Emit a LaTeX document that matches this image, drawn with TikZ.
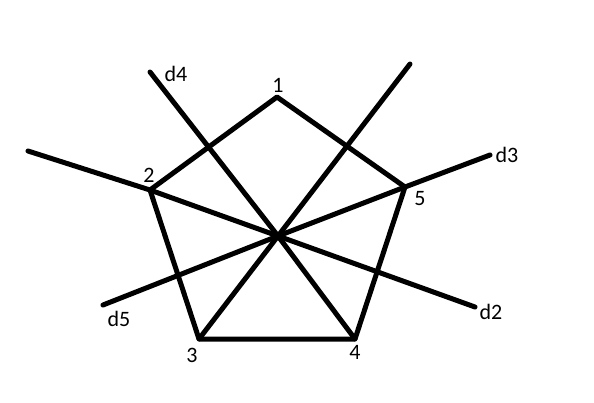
\documentclass[tikz,border=0pt]{standalone}
\usepackage{fontspec}
\setmainfont{Carlito}
\begin{document}
\begin{tikzpicture}[x=1pt,y=-1pt,
  edge/.style={line width=5pt,line cap=round,line join=round},
  lab/.style={font=\fontsize{22}{22}\selectfont,inner sep=0pt}]
\useasboundingbox[fill=white] (0,0) rectangle (594,402);
\coordinate (v1) at (277,97);
\coordinate (v2) at (150,190);
\coordinate (v3) at (199,339);
\coordinate (v4) at (355,339);
\coordinate (v5) at (405,187);
\coordinate (c) at (278,236);
\coordinate (e4) at (150,72);
\coordinate (etr) at (410,64);
\coordinate (el) at (28,151);
\coordinate (e2) at (475,307);
\coordinate (e3) at (490,155);
\coordinate (e5) at (103,305);
\draw[edge] (v1) -- (v2) -- (v3) -- (v4) -- (v5) -- cycle;
\draw[edge] (e4) -- (c) -- (v4);
\draw[edge] (etr) -- (c) -- (v3);
\draw[edge] (el) -- (v2) -- (c) -- (e2);
\draw[edge] (e3) -- (v5) -- (c) -- (e5);
\node[lab] (l1) at (278,85) {1};
\node[lab] (l2) at (149,175) {2};
\node[lab] (l3) at (192,355) {3};
\node[lab] (l4) at (355,352) {4};
\node[lab] (l5) at (420,199) {5};
\node[lab] (ld2) at (491,312) {d2};
\node[lab] (ld3) at (507,155) {d3};
\node[lab] (ld4) at (176,74) {d4};
\node[lab] (ld5) at (119,319) {d5};
\end{tikzpicture}
\end{document}
